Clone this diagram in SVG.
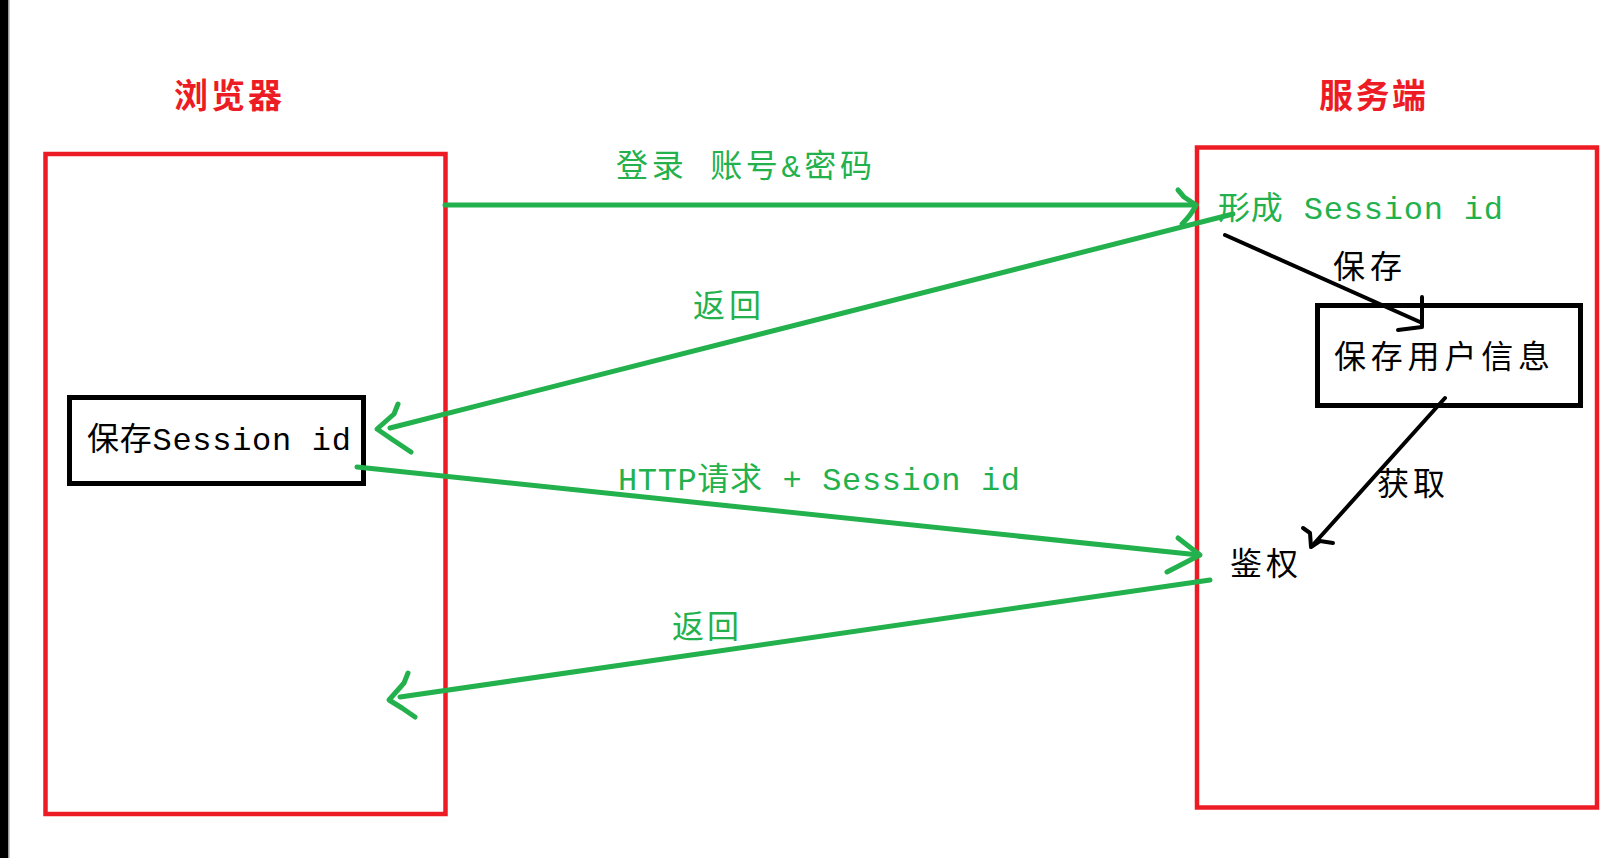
<svg xmlns="http://www.w3.org/2000/svg" width="1609" height="858" viewBox="0 0 1609 858">
<style>
.frame{fill:none;stroke:#ED1C24;stroke-width:4.5}
.box{fill:none;stroke:#000;stroke-width:5}
.g{fill:none;stroke:#22B14C;stroke-width:5;stroke-linecap:round;stroke-linejoin:round}
.k{fill:none;stroke:#000;stroke-width:4;stroke-linecap:round;stroke-linejoin:round}
.t{font-family:"Liberation Mono","Noto Sans CJK SC",monospace;font-size:32px}
.red{fill:#ED1C24;font-weight:bold;font-family:"Noto Sans CJK SC",sans-serif;font-size:34px}
.gt{fill:#22B14C}
.bt{fill:#000}
</style>
<rect x="0" y="0" width="1609" height="858" fill="#fff"/>
<rect x="0" y="0" width="8" height="858" fill="#000"/>
<rect x="8" y="0" width="1.5" height="858" fill="#999"/>

<g id="browser">
<rect class="frame" x="45.5" y="154" width="400" height="660"/>
<text class="red" x="174" y="108" textLength="108">浏览器</text>
</g>

<g id="server">
<rect class="frame" x="1197" y="147.5" width="400" height="660"/>
<text class="red" x="1319" y="108" textLength="107">服务端</text>
</g>

<g id="session-box">
<rect class="box" x="69.5" y="397.5" width="294" height="86"/>
<text class="t bt" x="87" y="450" textLength="264">保存Session id</text>
</g>

<g id="create-session">
<text class="t gt" x="1218" y="219" textLength="285">形成 Session id</text>
</g>

<g id="user-info-box">
<rect class="box" x="1317.5" y="305.5" width="263" height="100"/>
<text class="t bt" x="1334" y="368" font-size="34" textLength="216">保存用户信息</text>
</g>

<g id="auth">
<text class="t bt" x="1230" y="575" textLength="68">鉴权</text>
</g>

<g id="connectors">
<path class="g" d="M445,205 L1196,205"/>
<path class="g" d="M1178,190 L1184,197 L1196,205 Q1192,214 1182,224"/>
<path class="g" d="M1233,214 L390,428"/>
<path class="g" d="M398,404 L394,414 L377,429 L393,440 L411,452"/>
<path class="g" d="M357,467 L1199,555"/>
<path class="g" d="M1178,538 L1200,555 L1167,572"/>
<path class="g" d="M1210,580 L400,697"/>
<path class="g" d="M408,673 L404,683 L389,700 L402,708 L415,717"/>
<path class="k" d="M1225,235 L1420,322"/>
<path class="k" d="M1422,297 L1422,327 L1398,330"/>
<path class="k" d="M1445,398 L1312,546"/>
<path class="k" d="M1303,528 L1310,533 L1311,547 L1320,541 L1333,543"/>
<text class="t gt" x="616" y="177" font-size="34" textLength="256">登录 账号&amp;密码</text>
<text class="t gt" x="693" y="317" textLength="68">返回</text>
<text class="t gt" x="618" y="490" textLength="402">HTTP请求 + Session id</text>
<text class="t gt" x="672" y="638" textLength="67">返回</text>
<text class="t bt" x="1333" y="278" textLength="69">保存</text>
<text class="t bt" x="1377" y="495" textLength="68">获取</text>
</g>
</svg>
